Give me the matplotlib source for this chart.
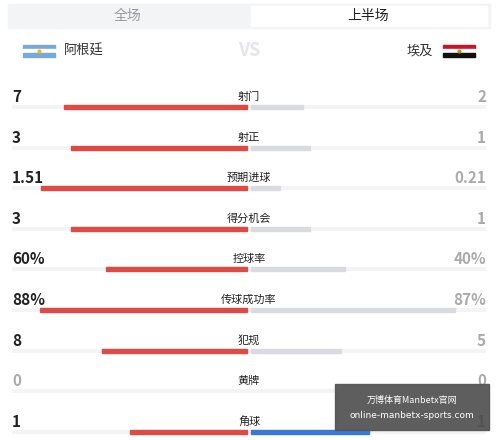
import matplotlib
matplotlib.use("Agg")
import matplotlib.pyplot as plt
from matplotlib.patches import Rectangle

plt.rcParams['font.family'] = ['Noto Sans CJK SC', 'DejaVu Sans']

stats = ["射门", "射正", "预期进球", "得分机会", "控球率", "传球成功率", "犯规", "黄牌", "角球"]
home_labels = ["7", "3", "1.51", "3", "60%", "88%", "8", "0", "1"]
away_labels = ["2", "1", "0.21", "1", "40%", "87%", "5", "0", "1"]
home_vals = [7, 3, 1.51, 3, 60, 88, 8, 0, 1]
away_vals = [2, 1, 0.21, 1, 40, 87, 5, 0, 1]
is_percent = [False, False, False, False, True, True, False, False, False]

fig = plt.figure(figsize=(5, 4.4), dpi=100)
ax = fig.add_axes([0, 0, 1, 1])
ax.set_xlim(0, 500); ax.set_ylim(440, 0); ax.axis('off')

# tabs
ax.add_patch(Rectangle((8, 4), 482, 24, color='#f2f4f6', zorder=1))
ax.add_patch(Rectangle((251, 6), 236, 20, color='white', zorder=2))
ax.text(128, 16, "全场", ha='center', va='center', fontsize=10, color='#999999', zorder=3)
ax.text(368, 16, "上半场", ha='center', va='center', fontsize=10, color='#222222', zorder=3)

# flags
for i, c in enumerate(['#75aadb', 'white', '#75aadb']):
    ax.add_patch(Rectangle((23, 45 + i * 4), 32, 4, color=c, zorder=2))
ax.plot(39, 51, 'o', ms=2, color='#f6b40e', zorder=3)
for i, c in enumerate(['#ce1126', 'white', '#111111']):
    ax.add_patch(Rectangle((443, 45 + i * 4), 32, 4, color=c, zorder=2))
ax.plot(459, 51, 'o', ms=2, color='#c09300', zorder=3)
ax.text(64, 51, "阿根廷", ha='left', va='center', fontsize=9.5, color='#333333')
ax.text(433, 51, "埃及", ha='right', va='center', fontsize=9.5, color='#333333')
ax.text(249, 51, "VS", ha='center', va='center', fontsize=13, color='#e4e6ea',
        fontweight='bold', fontstyle='italic')

center = 249
scale = 235
for i, s in enumerate(stats):
    y = 97 + i * 40.6
    by = y + 10
    h, a = home_vals[i], away_vals[i]
    tot = h + a
    ax.plot([12, 486], [by, by], color='#f3f4f6', lw=3, solid_capstyle='butt', zorder=1)
    if tot > 0:
        if is_percent[i]:
            lh, la = h / 100 * scale, a / 100 * scale
        else:
            lh, la = h / tot * scale, a / tot * scale
        ax.add_patch(Rectangle((center - 2 - lh, by - 2), lh, 4, color='#e04a45', zorder=2))
        rc = '#3a78d8' if h == a else '#d9dbe0'
        ax.add_patch(Rectangle((center + 2, by - 2), la, 4, color=rc, zorder=2))
    hc = '#222222' if (h >= a and tot > 0) else '#aaaaaa'
    acol = '#222222' if (a >= h and tot > 0) else '#aaaaaa'
    ax.text(12, y, home_labels[i], ha='left', va='center', fontsize=11, fontweight='bold', color=hc)
    ax.text(486, y, away_labels[i], ha='right', va='center', fontsize=11, fontweight='bold', color=acol)
    ax.text(249, y, s, ha='center', va='center', fontsize=8, color='#222222')

# watermark
ax.add_patch(Rectangle((335, 384), 154, 46, color='#555555', alpha=0.95, zorder=5))
ax.text(412, 400, "万博体育Manbetx官网", ha='center', va='center', fontsize=6.5, color='white', zorder=6)
ax.text(412, 416, "online-manbetx-sports.com", ha='center', va='center', fontsize=6.5,
        color='white', family=['DejaVu Sans'], zorder=6)

fig.savefig("out.png", dpi=100)
